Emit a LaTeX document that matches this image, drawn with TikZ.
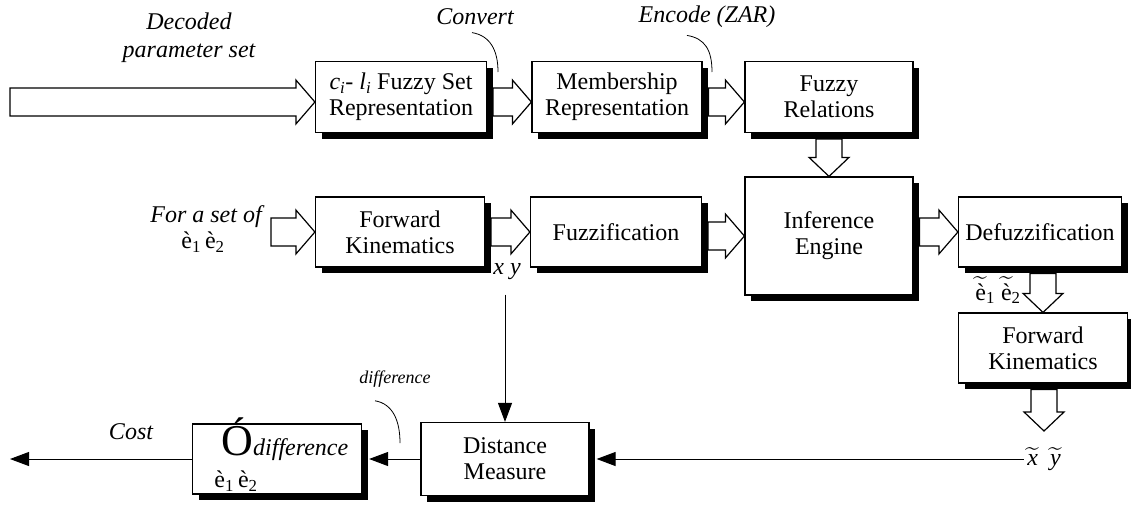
\documentclass[tikz,border=0pt]{standalone}
\usepackage{fontspec}
\setmainfont{Liberation Serif}
\usepackage{amsmath}
\usetikzlibrary{calc,shadows,arrows.meta}

\tikzset{
  blk/.style={draw, line width=1.2pt, fill=white, align=center,
    drop shadow={shadow xshift=6pt, shadow yshift=-6pt, fill=black, opacity=1}},
  fatarrow/.style={draw, line width=1.2pt, fill=white, line join=miter},
  thinarrow/.style={line width=1pt, -{Triangle[length=19pt,width=14pt]}},
  lbl/.style={font=\fontsize{24}{28}\selectfont\itshape, align=center}
}

% hollow block arrows, from a point to a node anchor
\newcommand{\fatright}[2]{%
  \draw[fatarrow] let \p1=(#1), \p2=(#2) in
    (\x1,{\y2+14pt}) -- ({\x2-19pt},{\y2+14pt}) -- ({\x2-19pt},{\y2+22pt}) -- (\x2,\y2)
    -- ({\x2-19pt},{\y2-22pt}) -- ({\x2-19pt},{\y2-14pt}) -- (\x1,{\y2-14pt}) -- cycle;}
\newcommand{\fatdown}[2]{%
  \draw[fatarrow] let \p1=(#1), \p2=(#2) in
    ({\x2-13pt},\y1) -- ({\x2-13pt},{\y2+19pt}) -- ({\x2-20pt},{\y2+19pt}) -- (\x2,\y2)
    -- ({\x2+20pt},{\y2+19pt}) -- ({\x2+13pt},{\y2+19pt}) -- ({\x2+13pt},\y1) -- cycle;}

\begin{document}
\begin{tikzpicture}[x=1pt, y=-1pt, font=\fontsize{24}{26}\selectfont]
    \useasboundingbox (0,0) rectangle (1131,504);

    % top row
    \node[blk, minimum width=171pt, minimum height=71pt] (rep) at (401,97)
      {\textit{c}\textsubscript{\textit{i}}- \textit{l}\textsubscript{\textit{i}} Fuzzy Set\\Representation};
    \node[blk, minimum width=170pt, minimum height=71pt] (memb) at (617,97) {Membership\\Representation};
    \node[blk, minimum width=168pt, minimum height=71pt] (rel) at (829,97) {Fuzzy\\Relations};

    % middle row
    \node[blk, minimum width=169pt, minimum height=70pt] (fk1) at (400,232) {Forward\\Kinematics};
    \node[blk, minimum width=171pt, minimum height=70pt] (fuzz) at (616,232) {Fuzzification};
    \node[blk, minimum width=168pt, minimum height=118pt] (inf) at (829,236) {Inference\\Engine};
    \node[blk, minimum width=163pt, minimum height=70pt] (defuz) at (1040,232) {Defuzzification};
    \node[blk, minimum width=169pt, minimum height=70pt] (fk2) at (1043,348) {Forward\\Kinematics};

    % bottom row
    \node[blk, minimum width=168pt, minimum height=73pt] (dist) at (505,459) {Distance\\Measure};
    \node[blk, minimum width=169pt, minimum height=70pt] (sigma) at (277,459) {};
    \node[lbl, anchor=base west, inner sep=0pt] (sdif) at (253,455) {difference};
    \node[font=\fontsize{44}{44}\selectfont, anchor=base east, inner sep=0pt] (ssum) at (sdif.base west) {Ó};
    \node (sth) at (236,481) {è\textsubscript{1}\,è\textsubscript{2}};

    % labels
    \node[lbl] (dec) at (189,38) {Decoded\\parameter set};
    \node[lbl] (conv) at (475,17) {Convert};
    \node[lbl] (enc) at (707,17) {Encode (ZAR)};
    \node[lbl] (forset) at (206,217) {For a set of};
    \node (th) at (203,242) {è\textsubscript{1}\,è\textsubscript{2}};
    \node (tht) at (998,290) {$\widetilde{\text{è}}_{\text{1}}$\ $\widetilde{\text{è}}_{\text{2}}$};
    \node[lbl] (xyl) at (507,272) {x y};
    \node (xyt) at (1044,459) {$\widetilde{\textit{x}}$\ \ $\widetilde{\textit{y}}$};
    \node[lbl, font=\fontsize{18}{20}\selectfont\itshape] (difl) at (395,379) {difference};
    \node[lbl] (cost) at (131,432) {Cost};

    \coordinate (decin) at (10,102);
    \coordinate (setin) at (271,232);
    \coordinate (fkout) at (1044,431);
    \coordinate (costend) at (10,459);
    \coordinate (cvend) at (498,72);
    \coordinate (encend) at (712,72);
    \coordinate (difend) at (400,443);

    % block arrows
    \fatright{decin}{[yshift=-5pt]rep.west}
    \fatright{[xshift=6pt]rep.east}{[yshift=-5pt]memb.west}
    \fatright{[xshift=6pt]memb.east}{[yshift=-5pt]rel.west}
    \fatright{setin}{fk1.west}
    \fatright{[xshift=6pt]fk1.east}{fuzz.west}
    \fatright{[xshift=6pt]fuzz.east}{inf.west}
    \fatright{[xshift=6pt]inf.east}{defuz.west}
    \fatdown{[yshift=-6pt]rel.south}{inf.north}
    \fatdown{[yshift=-6pt]defuz.south}{fk2.north}
    \fatdown{[yshift=-6pt]fk2.south}{fkout}

    % thin arrows
    \draw[thinarrow] ([yshift=-11pt]dist.north |- xyl.south) -- (dist.north);
    \draw[thinarrow] (xyt.west) -- ([xshift=7pt]dist.east);
    \draw[thinarrow] (dist.west) -- ([xshift=7pt]sigma.east);
    \draw[thinarrow] (sigma.west) -- (costend);

    % pointers from the labels
    \draw[line width=0.8pt] ([xshift=-3pt,yshift=-4pt]conv.south) .. controls +(18,3) and +(0,-22) .. (cvend);
    \draw[line width=0.8pt] ([xshift=-20pt,yshift=-4pt]enc.south) .. controls +(18,3) and +(0,-22) .. (encend);
    \draw[line width=0.8pt] ([xshift=-20pt,yshift=-10pt]difl.south) .. controls +(18,3) and +(0,-22) .. (difend);
\end{tikzpicture}
\end{document}
